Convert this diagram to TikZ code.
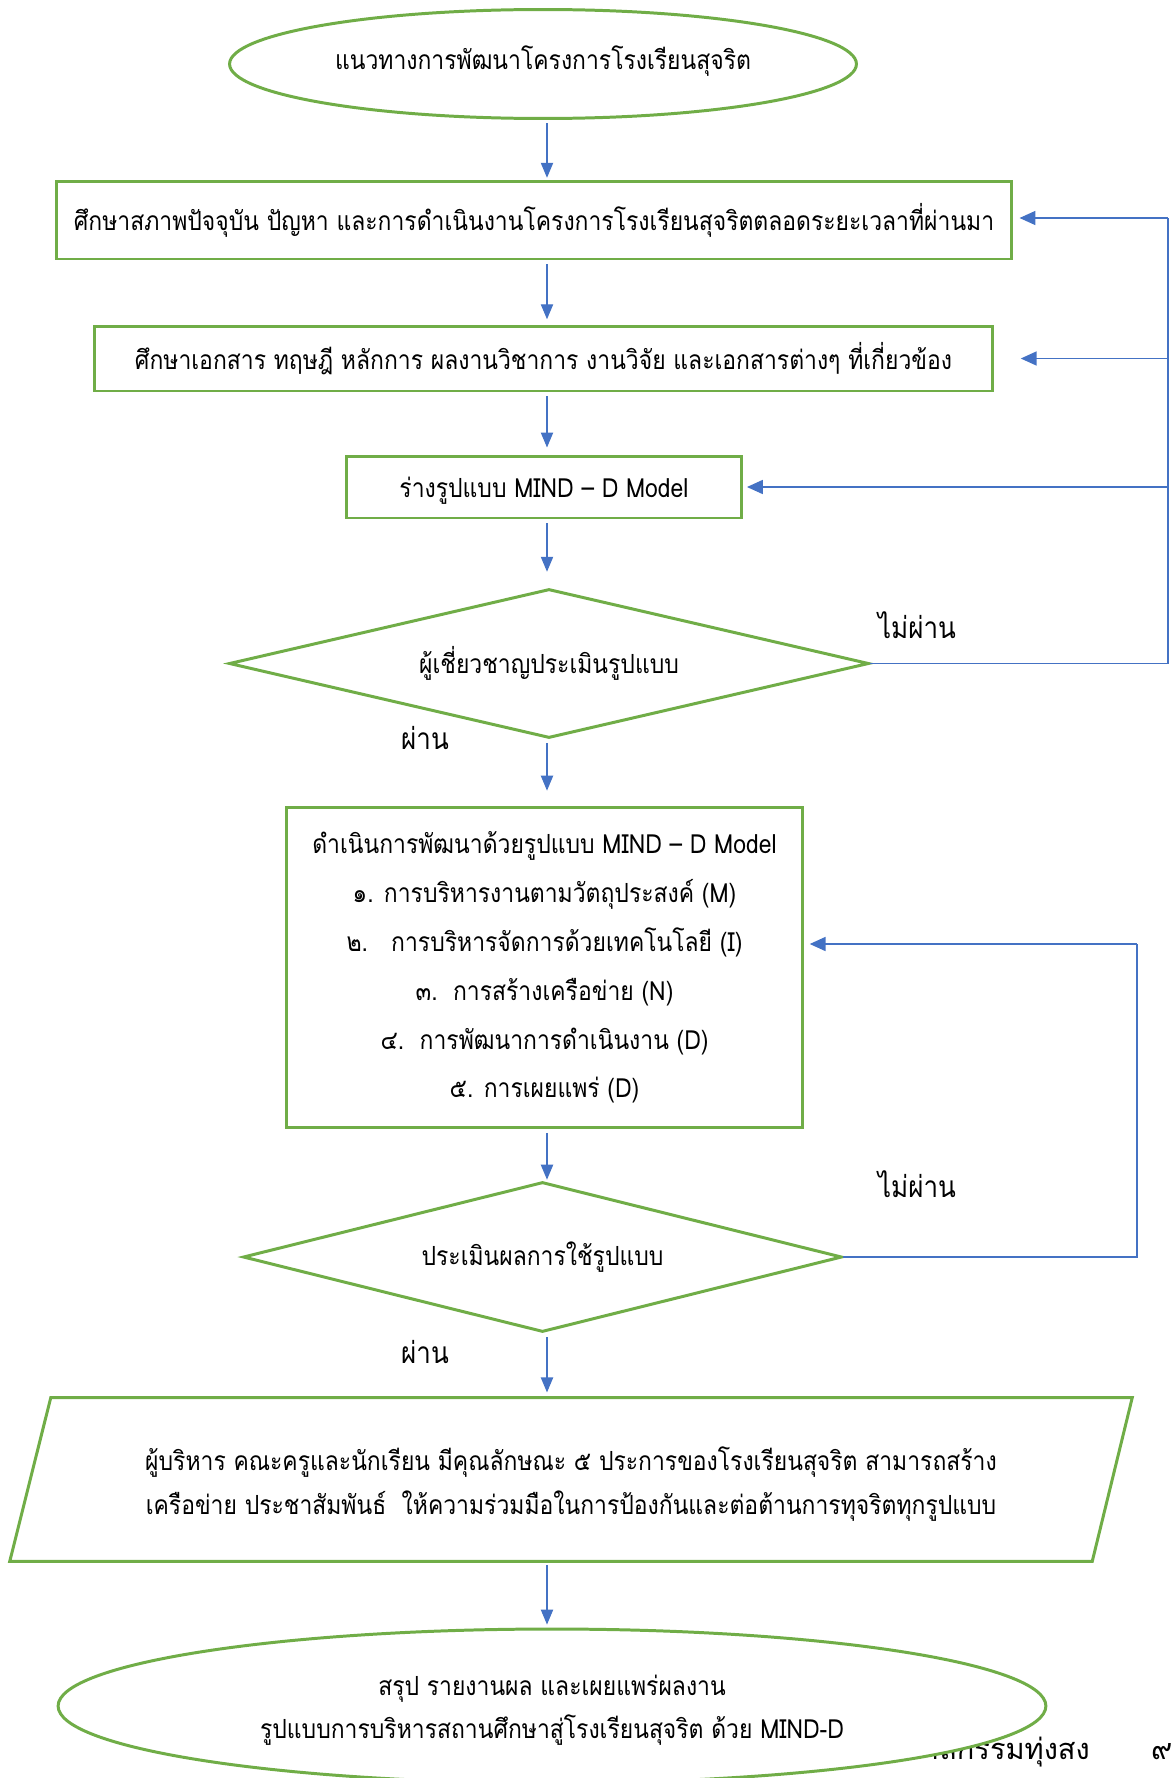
\documentclass[tikz,border=0pt]{standalone}
\usepackage{fontspec}
\setmainfont[Script=Thai,FakeStretch=0.87]{Loma}
\newfontfamily\footthai[Script=Thai]{Loma}
\usepackage{tikz}
\usetikzlibrary{arrows.meta,shapes.geometric,calc}
\definecolor{boxgreen}{HTML}{70AD47}
\definecolor{arrowblue}{HTML}{4472C4}
\tikzstyle{stepbox}=[rectangle,draw=boxgreen,line width=1.7pt,fill=white,inner sep=0pt,align=center,font=\fontsize{15}{18}\selectfont]
\tikzstyle{terminal}=[ellipse,draw=boxgreen,line width=1.7pt,fill=white,inner sep=0pt,align=center,font=\fontsize{15}{18}\selectfont]
\tikzstyle{check}=[diamond,draw=boxgreen,line width=1.7pt,fill=white,inner sep=0pt,aspect=4.3,font=\fontsize{15}{18}\selectfont]
\tikzstyle{flow}=[draw=arrowblue,line width=0.6pt,-{Triangle[length=8.5pt,width=7pt]}]
\tikzstyle{back}=[draw=arrowblue,line width=0.7pt]
\tikzstyle{backarrow}=[draw=arrowblue,line width=0.7pt,-{Triangle[length=9pt,width=8pt]}]
\tikzstyle{verdict}=[inner sep=0pt,font=\fontsize{17}{20}\selectfont]
\tikzstyle{inside}=[inner sep=0pt,align=center]

\begin{document}
\begin{tikzpicture}[x=0.02cm, y=-0.02cm]

    \useasboundingbox (0,0) rectangle (1173,1778);

    \node[anchor=base east, font=\footthai\fontsize{16.5}{20}\selectfont] (foot) at (1096,1759) {มาลกรรมทุ่งสง};
    \node[anchor=base west, font=\footthai\fontsize{16.5}{20}\selectfont] (pageno) at (1145,1759) {๙};

    \node[terminal, minimum width=12.54cm, minimum height=2.18cm] (top) at (543,64) {};
    \node[inside, font=\fontsize{15}{18}\selectfont, yshift=0.06cm] (toptext) at (top) {แนวทางการพัฒนาโครงการโรงเรียนสุจริต};

    \node[stepbox, minimum width=19.12cm, minimum height=1.56cm] (s1) at (534,220)
        {ศึกษาสภาพปัจจุบัน ปัญหา และการดำเนินงานโครงการโรงเรียนสุจริตตลอดระยะเวลาที่ผ่านมา};
    \node[stepbox, minimum width=17.98cm, minimum height=1.3cm] (s2) at (543.5,358.5)
        {ศึกษาเอกสาร ทฤษฎี หลักการ ผลงานวิชาการ งานวิจัย และเอกสารต่างๆ ที่เกี่ยวข้อง};
    \node[stepbox, minimum width=7.92cm, minimum height=1.24cm, text depth=0pt] (s3) at (544,487)
        {ร่างรูปแบบ MIND – D Model};

    \node[check, minimum width=12.8cm, minimum height=2.98cm] (check1) at (549,663.5) {ผู้เชี่ยวชาญประเมินรูปแบบ};

    \node[stepbox, minimum width=10.34cm, minimum height=6.42cm, font=\fontsize{15}{27.8}\selectfont] (s4) at (544.5,967.5)
        {ดำเนินการพัฒนาด้วยรูปแบบ MIND – D Model\\
         ๑. การบริหารงานตามวัตถุประสงค์ (M)\\
         ๒.\ \ \ การบริหารจัดการด้วยเทคโนโลยี (I)\\
         ๓.\ \ การสร้างเครือข่าย (N)\\
         ๔.\ \ การพัฒนาการดำเนินงาน (D)\\
         ๕. การเผยแพร่ (D)};

    \node[check, aspect=4, minimum width=11.98cm, minimum height=3cm] (check2) at (542.5,1257) {ประเมินผลการใช้รูปแบบ};

    \node[inner sep=0pt, minimum width=22.44cm, minimum height=3.26cm] (result) at (571,1479.5) {};
    \draw[boxgreen, line width=1.7pt] ([xshift=0.82cm]result.north west) -- (result.north east)
        -- ([xshift=-0.8cm]result.south east) -- (result.south west) -- cycle;
    \node[inside, font=\fontsize{15}{25}\selectfont, yshift=-0.1cm] (resulttext) at (result)
        {ผู้บริหาร คณะครูและนักเรียน มีคุณลักษณะ ๕ ประการของโรงเรียนสุจริต สามารถสร้าง\\
         เครือข่าย ประชาสัมพันธ์\ \ ให้ความร่วมมือในการป้องกันและต่อต้านการทุจริตทุกรูปแบบ};

    \node[terminal, minimum width=19.76cm, minimum height=3.08cm] (finish) at (552,1706) {};
    \node[inside, font=\fontsize{15}{24.4}\selectfont, yshift=-0.09cm] (finishtext) at (finish)
        {สรุป รายงานผล และเผยแพร่ผลงาน\\
         รูปแบบการบริหารสถานศึกษาสู่โรงเรียนสุจริต ด้วย MIND-D};

    \coordinate (spine) at (547,0);
    \foreach \a/\b/\g in {top/s1/1pt, s1/s2/3pt, s2/s3/4pt, s3/check1/9pt, check1/s4/8.5pt, s4/check2/0.5pt, check2/result/3pt, result/finish/1.7pt}
        \draw[flow, shorten <=2pt, shorten >=\g] (spine |- \a.south) -- (spine |- \b.north);

    \node[verdict] (no1) at (917,625) {ไม่ผ่าน};
    \node[verdict] (yes1) at (425,738) {ผ่าน};
    \node[verdict] (no2) at (917,1184) {ไม่ผ่าน};
    \node[verdict] (yes2) at (425,1352) {ผ่าน};

    \coordinate (loopA) at (1168,218);
    \draw[back] (check1.east) -| (loopA);
    \draw[backarrow, shorten >=3.5pt] (loopA) -- (loopA -| s1.east);
    \draw[backarrow, shorten >=15pt] (loopA |- s2.east) -- (s2.east);
    \draw[backarrow, shorten >=2pt] (loopA |- s3.east) -- (s3.east);

    \coordinate (loopB) at (1137,944);
    \draw[back] (check2.east) -| (loopB);
    \draw[backarrow, shorten >=3pt] (loopB) -- (loopB -| s4.east);

\end{tikzpicture}
\end{document}
